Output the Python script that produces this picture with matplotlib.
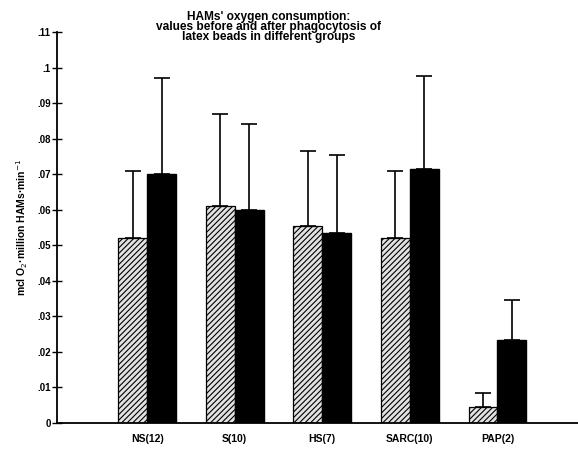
import numpy as np
import matplotlib
matplotlib.use('Agg')
import matplotlib.pyplot as plt

plt.rcParams['font.family'] = ['Liberation Sans', 'DejaVu Sans']
plt.rcParams['hatch.color'] = '#666666'
plt.rcParams['hatch.linewidth'] = 0.8

groups = ["NS(12)", "S(10)", "HS(7)", "SARC(10)", "PAP(2)"]
before = [0.052, 0.061, 0.0555, 0.052, 0.0044]
before_sd = [0.019, 0.026, 0.021, 0.019, 0.004]
after = [0.070, 0.060, 0.0535, 0.0715, 0.0235]
after_sd = [0.027, 0.024, 0.022, 0.026, 0.011]
yticks = [0, .01, .02, .03, .04, .05, .06, .07, .08, .09, .1, .11]
ytick_labels = ["0", ".01", ".02", ".03", ".04", ".05", ".06", ".07", ".08", ".09", ".1", ".11"]

fig = plt.figure(figsize=(5.78, 4.51), dpi=100)
ax = fig.add_axes([0.0986, 0.062, 0.9014, 0.867])

x = np.arange(len(groups))
w = 0.33
ax.bar(x - w/2, before, w, color='#e2e2e2', edgecolor='black', linewidth=0.9,
       hatch='//////', zorder=2)
ax.bar(x + w/2, after, w, color='black', edgecolor='black', linewidth=1.0, zorder=2)
ax.errorbar(x - w/2, before, yerr=[np.zeros(len(before)), before_sd], fmt='none',
            ecolor='black', elinewidth=1.2, capsize=6, capthick=1.2, zorder=3)
ax.errorbar(x + w/2, after, yerr=[np.zeros(len(after)), after_sd], fmt='none',
            ecolor='black', elinewidth=1.2, capsize=6, capthick=1.2, zorder=3)

ax.set_xlim(-1.03, 4.92)
ax.set_ylim(0, 0.11)
ax.set_yticks(yticks)
ax.set_yticklabels(ytick_labels, fontsize=7, fontweight='bold')
ax.set_xticks(x)
ax.set_xticklabels(groups, fontsize=7.5, fontweight='bold')
ax.tick_params(axis='y', direction='inout', length=7, width=1.0, pad=1)
ax.tick_params(axis='x', length=0, pad=8)
for s in ['top', 'right']:
    ax.spines[s].set_visible(False)
ax.spines['left'].set_linewidth(1.3)
ax.spines['bottom'].set_linewidth(1.3)

ax.set_ylabel("mcl O$_2$·million HAMs·min$^{-1}$", fontsize=7.5, fontweight='bold', labelpad=5)

fig.text(0.464, 0.976, "HAMs' oxygen consumption:\nvalues before and after phagocytosis of\nlatex beads in different groups",
         ha='center', va='top', fontsize=8.6, fontweight='bold', linespacing=0.78)

fig.savefig('out.png', dpi=100)
